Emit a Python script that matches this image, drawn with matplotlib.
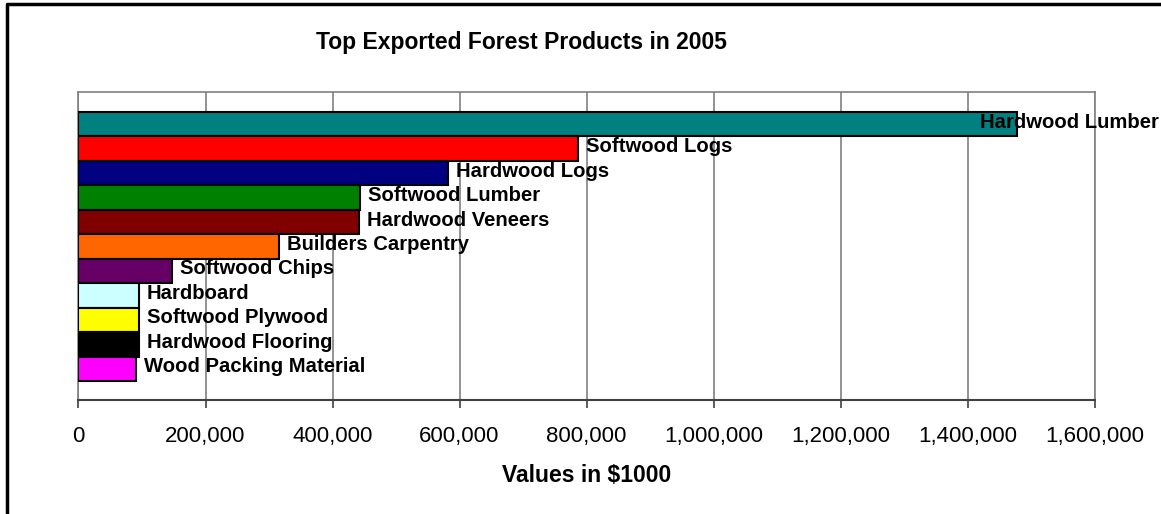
import numpy as np
import matplotlib
matplotlib.use("Agg")
import matplotlib.pyplot as plt
from matplotlib.lines import Line2D
from matplotlib.ticker import FuncFormatter

plt.rcParams['font.family'] = ['Liberation Sans', 'DejaVu Sans']

# Datos (valores en $1000)
productos = ['Hardwood Lumber', 'Softwood Logs', 'Hardwood Logs', 'Softwood Lumber',
             'Hardwood Veneers', 'Builders Carpentry', 'Softwood Chips', 'Hardboard',
             'Softwood Plywood', 'Hardwood Flooring', 'Wood Packing Material']
valores = [1477500, 786100, 582400, 443300, 441300, 316200, 147200, 95300, 95700, 94800, 91000]
colores = ['#008080', '#FF0000', '#000080', '#008000', '#800000', '#FF6600',
           '#660066', '#CCFFFF', '#FFFF00', '#000000', '#FF00FF']
ticks_x = [0, 200000, 400000, 600000, 800000, 1000000, 1200000, 1400000, 1600000]

W, H = 1161, 514
fig = plt.figure(figsize=(W/100, H/100), dpi=100)
ax = fig.add_axes([78.5/W, 1 - 399.5/H, 1016/W, 307.5/H])

pos = np.arange(len(productos))
ax.barh(pos, valores, height=1.0, color=colores, edgecolor='black', linewidth=1.5, zorder=3)

ax.set_xlim(0, 1600000)
ax.set_ylim(11.257, -1.318)
ax.set_xticks(ticks_x)
ax.xaxis.set_major_formatter(FuncFormatter(lambda v, p: '{:,.0f}'.format(v)))
ax.set_yticks([])
ax.grid(axis='x', color='#808080', linewidth=1.2, zorder=0)
ax.tick_params(axis='x', direction='out', length=6, width=1.2, color='#404040',
               labelsize=16, pad=13)

for s in ['top', 'right', 'left']:
    ax.spines[s].set_color('#808080')
    ax.spines[s].set_linewidth(1.2)
ax.spines['bottom'].set_color('#404040')
ax.spines['bottom'].set_linewidth(1.5)

# Etiquetas de las barras
for i, (nombre, v) in enumerate(zip(productos, valores)):
    if i == 0:
        ax.annotate(nombre, xy=(1.0, i), xycoords=('figure fraction', 'data'),
                    xytext=(-2, 2), textcoords='offset pixels',
                    ha='right', va='center', fontsize=14.6, fontweight='bold', zorder=5,
                    annotation_clip=False)
    else:
        ax.annotate(nombre, xy=(v, i), xytext=(8, 2), textcoords='offset pixels',
                    ha='left', va='center', fontsize=14.6, fontweight='bold', zorder=5)

ax.set_xlabel('Values in $1000', fontsize=16.5, fontweight='bold', labelpad=12)
fig.text(521/W, 1 - 42/H, 'Top Exported Forest Products in 2005', ha='center', va='center',
         fontsize=16.5, fontweight='bold')

# Borde del area del grafico
fig.add_artist(Line2D([7/W, 7/W, 1.01], [-0.01, 1 - 3.5/H, 1 - 3.5/H],
                      transform=fig.transFigure, color='black', linewidth=2.5))

fig.savefig('out.png', dpi=100)
plt.close()
